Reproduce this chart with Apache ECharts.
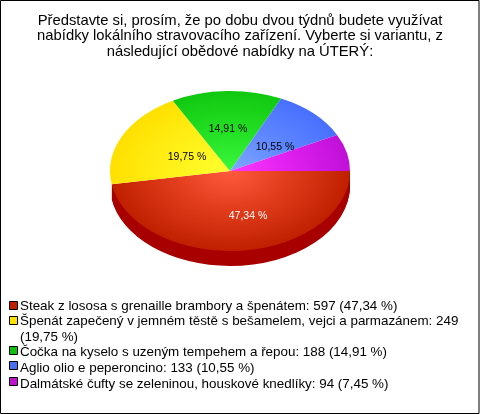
<!DOCTYPE html>
<html><head><meta charset="utf-8">
<style>html,body{margin:0;padding:0;background:#fff}#c{width:480px;height:414px}</style>
<script src="https://cdn.jsdelivr.net/npm/echarts@6/dist/echarts.min.js"></script>
</head><body><div id="c"></div>
<script>
const titleLines = ['Představte si, prosím, že po dobu dvou týdnů budete využívat','nabídky lokálního stravovacího zařízení. Vyberte si variantu, z','následující obědové nabídky na ÚTERÝ:'];
const categories = ['Steak z lososa s grenaille brambory a špenátem','Špenát zapečený v jemném těstě s bešamelem, vejci a parmazánem','Čočka na kyselo s uzeným tempehem a řepou','Aglio olio e peperoncino','Dalmátské čufty se zeleninou, houskové knedlíky'];
const values = [597,249,188,133,94];
const percents = ['47,34 %','19,75 %','14,91 %','10,55 %','7,45 %'];

const innerColors = ['#ff5a3c','#ffff30','#3cf83c','#80a8ff','#ff38ff'];
const midColors   = ['#e03c1c','#fff018','#24e024','#6088ff','#e020f0'];
const outerColors = ['#c02000','#ffe000','#10c810','#4870ff','#c010d8'];
const wallColors  = ['#a80000',null,null,null,null];
const swatchColors= ['#c02000','#ffe000','#10c010','#4870f0','#c010d0'];
const labelColors = ['#fff','#000','#000','#000',null];
const labelShift  = [[18,45],[-43,-14],[-2,-42],[45,-24],null];

const CX=230, CY=171, RX=120, RY=80, DEPTH=15;
const total = values.reduce((a,b)=>a+b,0);
const starts=[]; let acc=0; values.forEach(v=>{starts.push(acc); acc+=v;});

function sector(cy,i,fill,z2){
  const a0=starts[i]/total*Math.PI*2, a1=(starts[i]+values[i])/total*Math.PI*2;
  return {type:'sector',shape:{cx:0,cy:0,r:RX,r0:0,startAngle:a0,endAngle:a1,clockwise:true},
    x:CX,y:cy,scaleX:1,scaleY:RY/RX,style:{fill},z2,silent:true};
}
function renderItem(params,api){
  const i=params.dataIndex, children=[];
  if(wallColors[i]) for(let d=DEPTH;d>=1;d--) children.push(sector(CY+d,i,wallColors[i],1));
  children.push(sector(CY,i,new echarts.graphic.RadialGradient(0,0,RX,[{offset:0,color:innerColors[i]},{offset:0.5,color:midColors[i]},{offset:1,color:outerColors[i]}],true),10));
  if(labelShift[i]) children.push({type:'text',x:CX+labelShift[i][0],y:CY+labelShift[i][1],z2:20,silent:true,
    style:{text:percents[i],fill:labelColors[i],font:'10.5px "Liberation Sans"',align:'center',verticalAlign:'middle'}});
  return {type:'group',children};
}

const legendRows=[];
const swatchY=[305,320.5,350.5,365.5,381];
const textY=[298.5,314,345,360.5,376.5];
categories.forEach((c,i)=>{
  const y=Math.floor(swatchY[i]);
  legendRows.push({type:'rect',shape:{x:9.5,y:y-3.5,width:8,height:8},style:{fill:swatchColors[i],stroke:'#000',lineWidth:1}});
  let txt=c+': '+values[i]+' ('+percents[i]+')';
  if(i===1) txt=c+': '+values[i]+'\n('+percents[i]+')';
  legendRows.push({type:'text',x:20,y:textY[i],style:{text:txt,fill:'#000',font:'13.4px "Liberation Sans"',lineHeight:15.5,align:'left',verticalAlign:'top'}});
});
const titleEls=titleLines.map((t,i)=>({type:'text',x:240,y:13+i*15.5,style:{text:t,fill:'#000',font:'14.8px "Liberation Sans"',align:'center',verticalAlign:'top'}}));

const chart=echarts.init(document.getElementById('c'),null,{renderer:'canvas'});
chart.setOption({
  animation:false,backgroundColor:'#fff',
  series:[{type:'custom',coordinateSystem:'none',data:values.map((v,i)=>({name:categories[i],value:v})),renderItem,silent:true}],
  graphic:[{type:'rect',shape:{x:0.5,y:0.5,width:478.5,height:413},style:{fill:'none',stroke:'#000',lineWidth:1},silent:true},...titleEls,...legendRows]
});
</script></body></html>
